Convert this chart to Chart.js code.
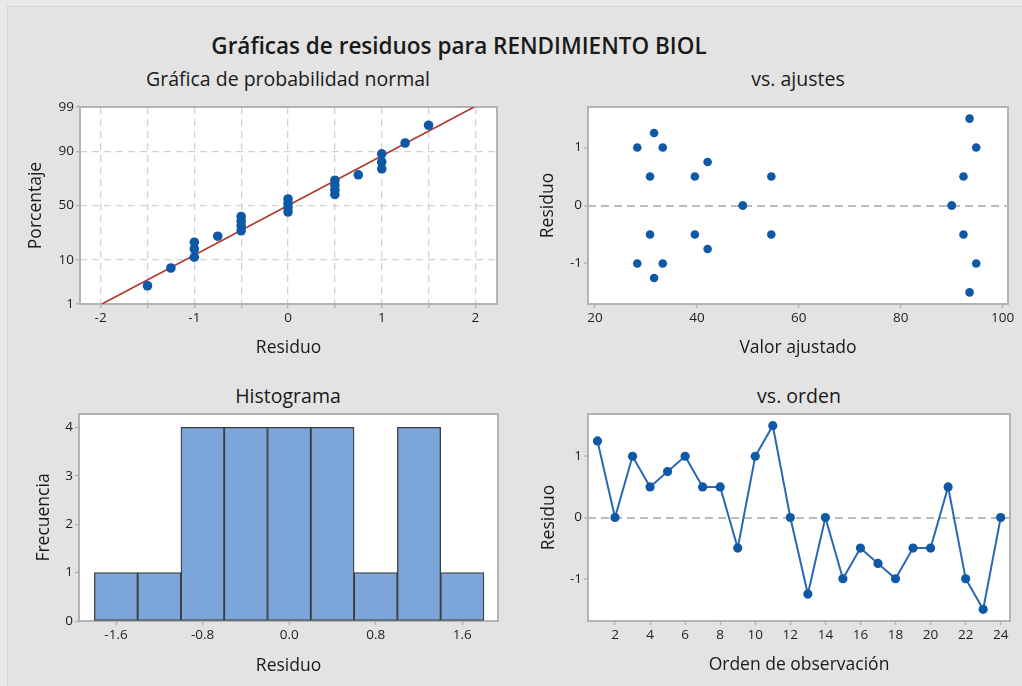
<!DOCTYPE html>
<html lang="es">
<head>
<meta charset="utf-8">
<title>Gráficas de residuos para RENDIMIENTO BIOL</title>
<script src="https://cdn.jsdelivr.net/npm/chart.js@4.4.1/dist/chart.umd.min.js"></script>
<style>
    html, body { margin: 0; padding: 0; }
    body { width: 1022px; height: 686px; background: #e8e8e8; position: relative; overflow: hidden; font-family: "Open Sans", "Noto Sans", sans-serif; color: #1a1a1a; }
    #fondo { position: absolute; left: 7px; top: 6px; right: 0; bottom: 0; background: #e3e3e3; border-left: 1px solid #d4d4d4; border-top: 1px solid #d4d4d4; }
    .ttl { position: absolute; transform: translate(-50%, -50%); white-space: nowrap; }
    #titulo { left: 459px; top: 45px; font-size: 22.5px; font-weight: 600; }
    .sub { font-size: 19.5px; }
    canvas { position: absolute; }
</style>
</head>
<body>
<div id="fondo"></div>
<div id="titulo" class="ttl">Gráficas de residuos para RENDIMIENTO BIOL</div>
<div class="ttl sub" style="left:288px; top:78px;">Gráfica de probabilidad normal</div>
<div class="ttl sub" style="left:798px; top:78px;">vs. ajustes</div>
<div class="ttl sub" style="left:288px; top:395px;">Histograma</div>
<div class="ttl sub" style="left:799px; top:395px;">vs. orden</div>

<canvas id="c-normal" width="511" height="280" style="left:0; top:95px;"></canvas>
<canvas id="c-ajustes" width="511" height="280" style="left:511px; top:95px;"></canvas>
<canvas id="c-hist" width="511" height="306" style="left:0; top:380px;"></canvas>
<canvas id="c-orden" width="511" height="306" style="left:511px; top:380px;"></canvas>

<script>
// datos: residuos por orden de observación y su valor ajustado
const orden = [1, 2, 3, 4, 5, 6, 7, 8, 9, 10, 11, 12, 13, 14, 15, 16, 17, 18, 19, 20, 21, 22, 23, 24];
const residuos = [1.25, 0, 1, 0.5, 0.75, 1, 0.5, 0.5, -0.5, 1, 1.5, 0, -1.25, 0, -1, -0.5, -0.75, -1, -0.5, -0.5, 0.5, -1, -1.5, 0];
const ajustes = [31.6, 49.0, 28.3, 30.8, 42.1, 33.3, 39.6, 54.6, 30.8, 94.8, 93.5, 90.0, 31.6, 49.0, 28.3, 39.6, 42.1, 33.3, 54.6, 92.3, 92.3, 94.8, 93.5, 90.0];

// porcentajes de la gráfica normal (residuos ordenados de menor a mayor)
const porcentajes = [2.9, 7.0, 11.1, 15.2, 19.3, 23.4, 27.5, 31.6, 35.7, 39.8, 43.9, 48.0, 52.0, 56.1, 60.2, 64.3, 68.4, 72.5, 76.6, 80.7, 84.8, 88.9, 93.0, 97.1];

// histograma
const binCentros = [-1.6, -1.2, -0.8, -0.4, 0, 0.4, 0.8, 1.2, 1.6];
const frecuencias = [1, 1, 4, 4, 4, 4, 1, 4, 1];

// marcas de los ejes
const ticksPct = [1, 10, 50, 90, 99];
const ticksResX = [-2, -1.5, -1, -0.5, 0, 0.5, 1, 1.5, 2];
const ticksAjuste = [20, 40, 60, 80, 100];
const ticksRes = [-1, 0, 1];
const ticksHistX = [-1.6, -0.8, 0, 0.8, 1.6];
const ticksHistY = [0, 1, 2, 3, 4];
const ticksOrden = [2, 4, 6, 8, 10, 12, 14, 16, 18, 20, 22, 24];

const FUENTE = '"Open Sans", "Noto Sans", sans-serif';
const GRIS = '#b3b3b3';
const AZUL = '#0d59a8';

Chart.defaults.font.family = FUENTE;
Chart.defaults.animation = false;
Chart.defaults.plugins.legend.display = false;
Chart.defaults.plugins.tooltip.enabled = false;

// inversa de la normal estándar (Abramowitz-Stegun 26.2.23)
function zNormal(pct) {
    const p = pct / 100;
    const q = p < 0.5 ? p : 1 - p;
    const t = Math.sqrt(-2 * Math.log(q));
    const z = t - (2.515517 + 0.802853 * t + 0.010328 * t * t) / (1 + 1.432788 * t + 0.189269 * t * t + 0.001308 * t * t * t);
    return p < 0.5 ? -z : z;
}

// fondo blanco y marco gris del área de datos
const marco = {
    id: 'marco',
    beforeDraw(chart) {
        const a = chart.chartArea, ctx = chart.ctx;
        ctx.save(); ctx.fillStyle = '#fff'; ctx.fillRect(a.left, a.top, a.width, a.height); ctx.restore();
    },
    beforeDatasetsDraw(chart) {
        const a = chart.chartArea, ctx = chart.ctx;
        ctx.save(); ctx.strokeStyle = GRIS; ctx.lineWidth = 2; ctx.strokeRect(a.left, a.top, a.width, a.height); ctx.restore();
    }
};

function escala(min, max, valores, titulo, tPad, tam, extra) {
    const horizontal = extra && extra.horizontal;
    const s = {
        type: 'linear', min: min, max: max, offset: false,
        afterBuildTicks: sc => { sc.ticks = valores.map(v => ({ value: v })); },
        afterFit: sc => { if (horizontal) sc.height = tam; else sc.width = tam; },
        border: { display: false },
        grid: { drawOnChartArea: false, offset: false, tickLength: 4, tickColor: GRIS, tickWidth: 1.5 },
        ticks: { color: '#1e1e1e', font: { size: 13.5 }, padding: 2, autoSkip: false, maxRotation: 0 },
        title: { display: true, text: titulo, color: '#1a1a1a', font: { size: 17.5 }, padding: tPad }
    };
    if (extra && extra.grid) Object.assign(s.grid, extra.grid);
    if (extra && extra.dash) s.border.dash = extra.dash;
    if (extra && extra.callback) s.ticks.callback = extra.callback;
    return s;
}

// línea de referencia en cero (gris discontinua)
const gridCero = { drawOnChartArea: true, lineWidth: 2, color: c => (c.tick && c.tick.value === 0) ? '#bdbdbd' : 'rgba(0,0,0,0)' };

// --- Gráfica de probabilidad normal ---
const ordenados = residuos.slice().sort((a, b) => a - b);
const media = residuos.reduce((s, v) => s + v, 0) / residuos.length;
const desv = Math.sqrt(residuos.reduce((s, v) => s + (v - media) ** 2, 0) / (residuos.length - 1));
const zMin = zNormal(ticksPct[0]), zMax = zNormal(ticksPct[ticksPct.length - 1]);

new Chart(document.getElementById('c-normal'), {
    type: 'scatter',
    data: {
        datasets: [
            { data: ordenados.map((r, i) => ({ x: r, y: zNormal(porcentajes[i]) })), backgroundColor: AZUL, pointRadius: 4.8, pointBorderWidth: 0, order: 0 },
            { type: 'line', data: [{ x: media + desv * zMin, y: zMin }, { x: media + desv * zMax, y: zMax }], borderColor: '#b3342c', borderWidth: 1.6, pointRadius: 0, order: 1 }
        ]
    },
    options: {
        responsive: false,
        layout: { padding: { left: 0, top: 12, right: 14, bottom: 0 } },
        scales: {
            x: escala(-2.22, 2.23, ticksResX, 'Residuo', { top: 0, bottom: 16 }, 71, {
                horizontal: true, dash: [7, 5],
                grid: { drawOnChartArea: true, color: '#d2d2d2', lineWidth: 1.3 },
                callback: v => Number.isInteger(v) ? String(v) : ''
            }),
            y: escala(zMin, zMax, ticksPct.map(zNormal), 'Porcentaje', { top: 26, bottom: 0 }, 80, {
                dash: [7, 5],
                grid: { drawOnChartArea: true, lineWidth: 1.3, color: c => (c.tick && (c.index === 0 || c.index === ticksPct.length - 1)) ? 'rgba(0,0,0,0)' : '#d2d2d2' },
                callback: (v, i) => String(ticksPct[i])
            })
        }
    },
    plugins: [marco]
});

// --- vs. ajustes ---
new Chart(document.getElementById('c-ajustes'), {
    type: 'scatter',
    data: { datasets: [{ data: ajustes.map((f, i) => ({ x: f, y: residuos[i] })), backgroundColor: AZUL, pointRadius: 4.3, pointBorderWidth: 0 }] },
    options: {
        responsive: false,
        layout: { padding: { left: 0, top: 12, right: 14, bottom: 0 } },
        scales: {
            x: escala(18.63, 101.04, ticksAjuste, 'Valor ajustado', { top: 0, bottom: 16 }, 71, { horizontal: true }),
            y: escala(-1.7, 1.7, ticksRes, 'Residuo', { top: 27, bottom: 0 }, 77, { dash: [8, 5], grid: gridCero })
        }
    },
    plugins: [marco]
});

// --- Histograma ---
new Chart(document.getElementById('c-hist'), {
    type: 'bar',
    data: {
        datasets: [{
            data: binCentros.map((c, i) => ({ x: c, y: frecuencias[i] })),
            backgroundColor: '#7ca6d9', borderColor: '#3d3d3d', borderWidth: 1.3,
            barPercentage: 1, categoryPercentage: 1, borderSkipped: false
        }]
    },
    options: {
        responsive: false,
        layout: { padding: { left: 0, top: 34, right: 13, bottom: 0 } },
        scales: {
            x: escala(-1.942, 1.93, ticksHistX, 'Residuo', { top: 0, bottom: 9 }, 65, { horizontal: true, callback: v => v.toFixed(1) }),
            y: escala(0, 4.275, ticksHistY, 'Frecuencia', { top: 34, bottom: 0 }, 79)
        }
    },
    plugins: [marco]
});

// --- vs. orden ---
new Chart(document.getElementById('c-orden'), {
    type: 'line',
    data: {
        datasets: [{
            data: orden.map((o, i) => ({ x: o, y: residuos[i] })),
            borderColor: '#2c68b2', borderWidth: 2, tension: 0,
            pointRadius: 4.6, pointBackgroundColor: AZUL, pointBorderWidth: 0
        }]
    },
    options: {
        responsive: false,
        layout: { padding: { left: 0, top: 34, right: 12, bottom: 0 } },
        scales: {
            x: escala(0.46, 24.53, ticksOrden, 'Orden de observación', { top: 0, bottom: 10 }, 65, { horizontal: true }),
            y: escala(-1.69, 1.69, ticksRes, 'Residuo', { top: 28, bottom: 0 }, 77, { dash: [8, 5], grid: gridCero })
        }
    },
    plugins: [marco]
});
</script>
</body>
</html>
